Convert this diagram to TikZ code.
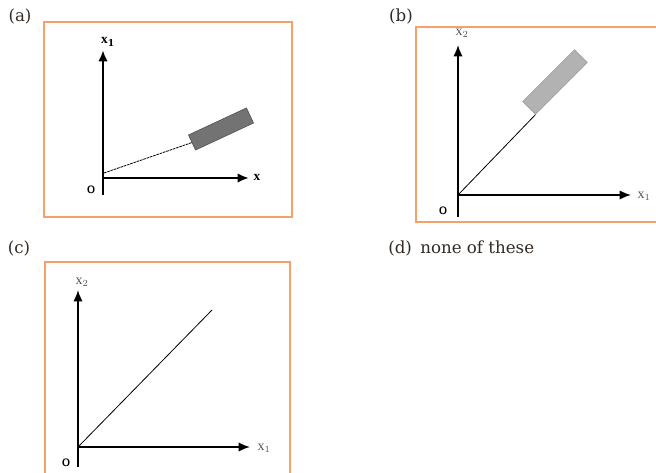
\documentclass[tikz,border=0pt]{standalone}
\usepackage{fontspec}
\setmainfont{DejaVu Serif}
\newfontfamily\axisfont{Liberation Serif}
\definecolor{FrameOrange}{RGB}{247,160,105}
\definecolor{LabelDark}{RGB}{50,42,36}
\definecolor{AxisGray}{RGB}{80,80,80}
\usetikzlibrary{arrows.meta, positioning}

\begin{document}
\begin{tikzpicture}[x=0.75pt, y=-0.75pt,
    frame/.style={draw=FrameOrange, line width=1pt},
    axis/.style={-{Latex[length=8.5pt, width=7pt]}, line width=1.3pt, black},
    tag/.style={font=\fontsize{12.5}{14}\selectfont, text=LabelDark, inner sep=0pt},
    axlbl/.style={font=\axisfont\fontsize{10.5}{12}\selectfont, text=AxisGray, inner sep=0pt},
    orig/.style={font=\sffamily\bfseries\fontsize{8}{9}\selectfont, inner sep=0pt},
    blk/.style={rotate=#1, fill=gray!60, draw=gray!80, minimum width=48pt,
                minimum height=13pt, inner sep=0pt}
  ]
    \useasboundingbox (0,0) rectangle (656,473);

    % (a)
    \node[tag] (taga) at (20,16) {(a)};
    \draw[frame] (44,22) rectangle (292,217);
    \coordinate (oa) at (103,178);
    \coordinate (oabot) at (103,195);
    \coordinate (ya) at (103,50);
    \coordinate (xa) at (249,178);
    \draw[axis, line width=1.9pt] (oabot) -- (ya);
    \draw[axis, line width=1.6pt] (oa) -- (xa);
    \node[axlbl, text=black, font=\axisfont\bfseries\fontsize{10}{11}\selectfont]
      (ya-lbl) at (108,42) {x$_{\mathbf 1}$};
    \node[axlbl, text=black, font=\axisfont\bfseries\fontsize{10}{11}\selectfont]
      (xa-lbl) at (257,177) {x};
    \node[orig] (oa-lbl) at (91,190) {O};
    \node[blk=25, fill=black!55, draw=black!70, minimum height=12.5pt]
      (blka) at (221,129) {};
    \draw[dashed, dash pattern=on 2pt off 0.6pt, line width=0.6pt] (104,173) -- (blka.west);

    % (b)
    \node[tag] (tagb) at (401,16) {(b)};
    \draw[frame] (656,27) -- (416,27) -- (416,222) -- (656,222);
    \coordinate (ob) at (458,195);
    \coordinate (obbot) at (458,217);
    \coordinate (yb) at (458,45);
    \coordinate (xb) at (631,195);
    \draw[axis] (obbot) -- (yb);
    \draw[axis] (ob) -- (xb);
    \node[axlbl] (yb-lbl) at (462,33) {x$_2$};
    \node[axlbl] (xb-lbl) at (644,196) {x$_1$};
    \node[orig] (ob-lbl) at (443,211) {O};
    \node[blk=45, minimum width=55pt, minimum height=13.5pt] (blkb) at (555,82) {};
    \draw[line width=0.6pt] (ob) -- (blkb.south west);

    % (c)
    \node[tag] (tagc) at (19,248) {(c)};
    \draw[frame] (45,473) -- (45,262) -- (290,262) -- (290,473);
    \coordinate (oc) at (78,447);
    \coordinate (ocbot) at (78,467);
    \coordinate (yc) at (78,290);
    \coordinate (xc) at (250,447);
    \coordinate (lc) at (212,310);
    \draw[axis] (ocbot) -- (yc);
    \draw[axis] (oc) -- (xc);
    \node[axlbl] (yc-lbl) at (82,282) {x$_2$};
    \node[axlbl] (xc-lbl) at (264,448) {x$_1$};
    \node[orig] (oc-lbl) at (66,463) {O};
    \draw[line width=0.6pt] (oc) -- (lc);

    % (d)
    \node[tag, anchor=west] (tagd) at (388,248) {(d)\enspace none of these};
  \end{tikzpicture}
\end{document}
